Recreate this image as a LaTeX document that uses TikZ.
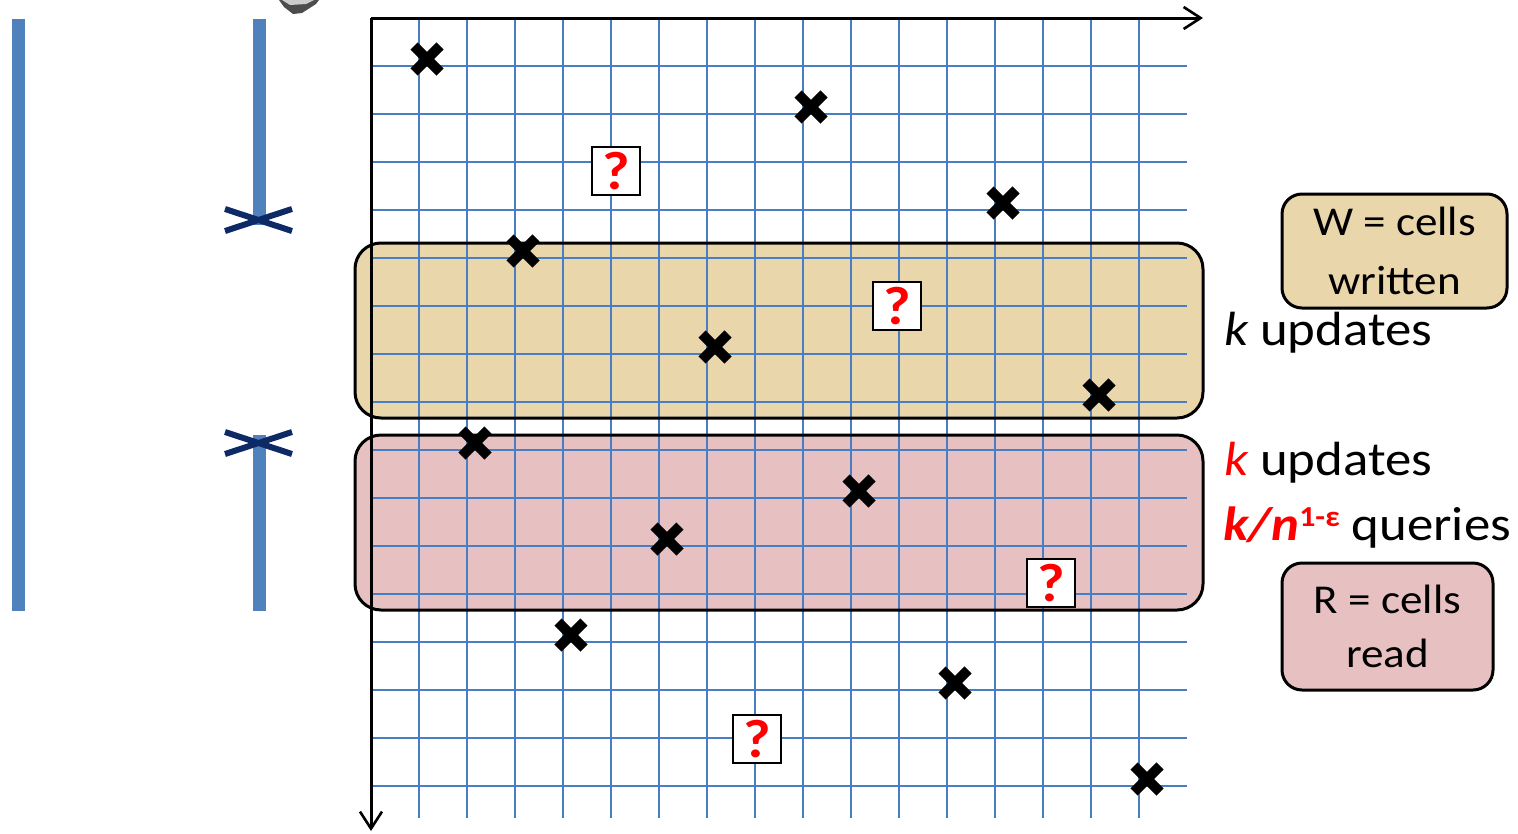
\documentclass[tikz,border=0pt]{standalone}
\usepackage{fontspec}
\setmainfont{Carlito}[FakeStretch=1.1]
\usetikzlibrary{arrows.meta}
\definecolor{gridblue}{HTML}{4A7EC4}
\definecolor{barblue}{HTML}{4F81BD}
\definecolor{navy}{HTML}{0E2A66}
\definecolor{tanfill}{HTML}{E9D6AA}
\definecolor{pinkfill}{HTML}{E7C1C2}
\definecolor{lred}{HTML}{FF0000}
\tikzset{
  gridline/.style={gridblue, line width=2pt},
  axis/.style={black, line width=3pt, -{Straight Barb[length=17pt,width=22pt,line width=2.6pt]}},
  band/.style={rounded corners=26pt, line width=3pt, draw=black, minimum width=848pt, inner sep=0pt},
  legendbox/.style={rounded corners=20pt, line width=3pt, draw=black, align=center, inner sep=0pt,
     font=\fontsize{41}{59}\selectfont},
  qbox/.style={draw=black, fill=white, line width=2pt, minimum size=48pt, inner sep=0pt,
     text=lred, font=\fontsize{54}{54}\selectfont\bfseries},
  lbl/.style={anchor=base west, inner sep=0pt, font=\fontsize{48}{50}\selectfont},
  bar/.style={barblue, line width=13pt},
  navycross/.style={navy, line width=6pt},
  pics/bx/.style={code={\draw[black, line width=10pt] (-13,-13)--(13,13) (-13,13)--(13,-13);}}
}
\begin{document}
\begin{tikzpicture}[x=1pt,y=-1pt]
\useasboundingbox (0,0) rectangle (1518,833);
% gray object at top
\fill[gray!60!black] (279,0) -- (284,7) -- (293,14) -- (302,13) -- (316,4) -- (319,0) -- cycle;
\fill[gray!40] (282,0) -- (290,5) -- (306,4) -- (314,0) -- cycle;
% left bars
\draw[bar] (18.5,19) -- (18.5,611);
\draw[bar] (259,19) -- (259,225);
\draw[bar] (259,435) -- (259,611);
\draw[navycross] (225,209) -- (292,231) (225,231) -- (292,209);
\draw[navycross] (225,432) -- (292,454) (225,454) -- (292,432);
% band fills
\node[band, fill=tanfill, draw=none, minimum height=175pt] (updfill) at (779,330.5) {};
\node[band, fill=pinkfill, draw=none, minimum height=175pt] (qryfill) at (779,522.5) {};
% grid
\foreach \i in {0,...,15} {
  \draw[gridline] (419+48*\i,18) -- (419+48*\i,818);
  \draw[gridline] (371,66+48*\i) -- (1187,66+48*\i);
}
% band borders
\node[band, minimum height=175pt] (upd) at (779,330.5) {};
\node[band, minimum height=175pt] (qry) at (779,522.5) {};
% axes
\coordinate (o) at (371,18);
\coordinate (xend) at (1203,18);
\coordinate (yend) at (371,831);
\draw[axis] (o) -- (xend);
\draw[axis] (o) -- (yend);
% crosses
\foreach \p in {(427,59),(811,107),(1003,203),(523,251),(715,347),(1099,395),
                (475,443),(859,491),(667,539),(571,635),(955,683),(1147,779)}
  \pic at \p {bx};
% question boxes
\node[qbox] (q1) at (616,171) {?};
\node[qbox] (q2) at (897,306) {?};
\node[qbox] (q3) at (1051,583) {?};
\node[qbox] (q4) at (757,739) {?};
% right labels
\node[legendbox, fill=tanfill, minimum width=225pt, minimum height=114pt] (wbox) at (1394.5,251) {W = cells\\written};
\node[legendbox, fill=pinkfill, minimum width=211pt, minimum height=127pt, font=\fontsize{41}{54}\selectfont] (rbox) at (1387.5,626.5) {R = cells\\read};
\node[lbl] (l1) at (1224,345) {\itshape k\upshape{} updates};
\node[lbl] (l2) at (1224,475) {\textcolor{lred}{\itshape k}\upshape{} updates};
\node[lbl] (l3) at (1223,540) {\textcolor{lred}{\bfseries\itshape k/n\raisebox{14pt}{\fontsize{29}{30}\selectfont\upshape 1-ε}} queries};
\end{tikzpicture}
\end{document}
